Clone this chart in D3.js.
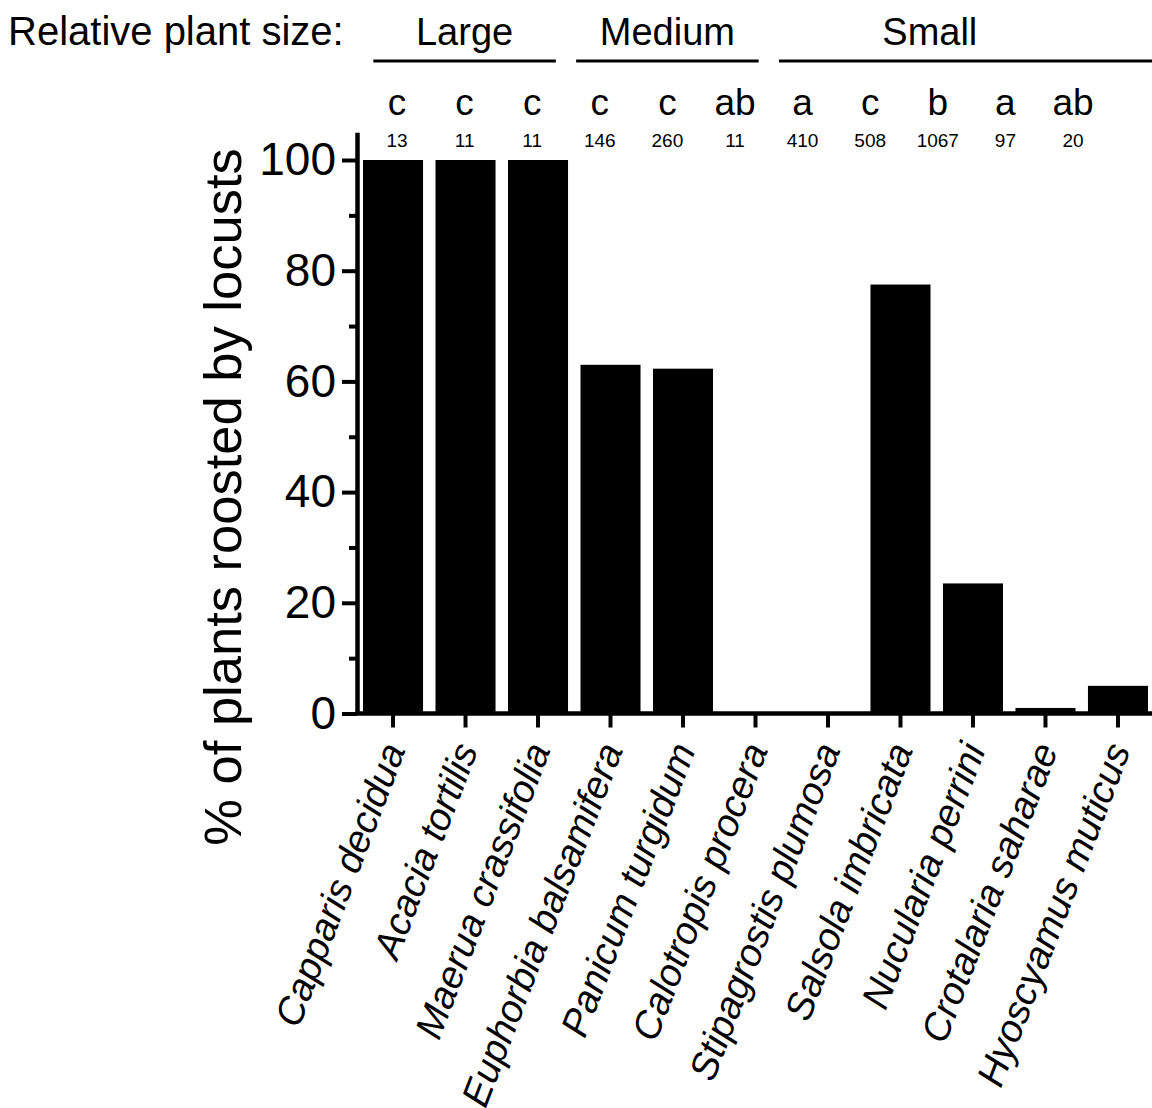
<!DOCTYPE html>
<html>
<head>
<meta charset="utf-8">
<script src="https://cdn.jsdelivr.net/npm/d3@7"></script>
<style>
  html, body { margin: 0; padding: 0; background: #fff; }
  svg { display: block; }
  text { font-family: "Liberation Sans", Arial, Helvetica, sans-serif; fill: #000; }
</style>
</head>
<body>
<svg id="chart" width="1152" height="1108"></svg>
<script>
// ---- Data ----
const species = [
  "Capparis decidua", "Acacia tortilis", "Maerua crassifolia",
  "Euphorbia balsamifera", "Panicum turgidum", "Calotropis procera",
  "Stipagrostis plumosa", "Salsola imbricata", "Nucularia perrini",
  "Crotalaria saharae", "Hyoscyamus muticus"
];
const percentRoosted = [100, 100, 100, 63, 62.3, 0, 0, 77.5, 23.5, 1, 5];
const significanceLetters = ["c", "c", "c", "c", "c", "ab", "a", "c", "b", "a", "ab"];
const sampleSizes = [13, 11, 11, 146, 260, 11, 410, 508, 1067, 97, 20];
const sizeGroupNames = ["Large", "Medium", "Small"];
const sizeGroupFirst = [0, 3, 6];
const sizeGroupLast = [2, 5, 10];
const yMajorTicks = [0, 20, 40, 60, 80, 100];
const yMinorTicks = [10, 30, 50, 70, 90];

// ---- Layout ----
const W = 1152, H = 1108;
const svg = d3.select("#chart");
const axisX = 357, baseY = 713.5;

const x = d3.scaleBand()
  .domain(species)
  .range([axisX, 1154])
  .paddingInner(0.172)
  .paddingOuter(0.083);

const y = d3.scaleLinear()
  .domain([0, 105])
  .range([baseY, baseY - 105 * 5.535]);

// annotation row positions (letters and n), slightly compressed relative to bars
const ann = d3.scalePoint().domain(species).range([397, 1073]);

// ---- Bars ----
svg.append("g").selectAll("rect")
  .data(species)
  .join("rect")
  .attr("x", d => x(d))
  .attr("width", x.bandwidth())
  .attr("y", (d, i) => y(percentRoosted[i]))
  .attr("height", (d, i) => y(0) - y(percentRoosted[i]))
  .attr("fill", "#000");

// ---- Y axis ----
const yAxis = svg.append("g")
  .attr("transform", `translate(${axisX},0)`)
  .call(d3.axisLeft(y).tickValues(yMajorTicks).tickSize(15).tickSizeOuter(0).tickPadding(6).tickFormat(d3.format("d")));
yAxis.select(".domain").attr("stroke-width", 4.5);
yAxis.selectAll(".tick line").attr("stroke-width", 4);
yAxis.selectAll(".tick text")
  .style("font-size", "46px")
  .attr("font-family", null);

const yMinor = svg.append("g")
  .attr("transform", `translate(${axisX},0)`)
  .call(d3.axisLeft(y).tickValues(yMinorTicks).tickSize(8).tickFormat(""));
yMinor.select(".domain").remove();
yMinor.selectAll(".tick line").attr("stroke-width", 4);

// ---- X axis ----
const xAxis = svg.append("g")
  .attr("transform", `translate(0,${baseY})`)
  .call(d3.axisBottom(x).tickSize(14).tickSizeOuter(0).tickFormat(""));
xAxis.select(".domain").attr("d", `M${axisX},0H${W}`).attr("stroke-width", 4.5);
xAxis.selectAll(".tick line").attr("stroke-width", 4);

svg.append("g").selectAll("text")
  .data(species)
  .join("text")
  .attr("transform", d => `translate(${x(d) + x.bandwidth() / 2 + 13},${baseY + 36}) rotate(-69)`)
  .attr("text-anchor", "end")
  .style("font-size", "38.5px")
  .style("font-style", "italic")
  .text(d => d);

// ---- Y axis label ----
svg.append("text")
  .attr("transform", `translate(241,497) rotate(-90)`)
  .attr("text-anchor", "middle")
  .style("font-size", "52.5px")
  .text("% of plants roosted by locusts");

// ---- Annotations ----
svg.append("g").selectAll("text")
  .data(species)
  .join("text")
  .attr("x", d => ann(d))
  .attr("y", 115)
  .attr("text-anchor", "middle")
  .style("font-size", "37px")
  .text((d, i) => significanceLetters[i]);

svg.append("g").selectAll("text")
  .data(species)
  .join("text")
  .attr("x", d => ann(d))
  .attr("y", 147)
  .attr("text-anchor", "middle")
  .style("font-size", "19px")
  .text((d, i) => sampleSizes[i]);

// ---- Size groups header ----
svg.append("text")
  .attr("x", 8)
  .attr("y", 45)
  .style("font-size", "40px")
  .text("Relative plant size:");

const step = ann.step();
sizeGroupNames.forEach((g, i) => {
  const x0 = ann(species[sizeGroupFirst[i]]) - step * 0.35;
  const x1 = i === sizeGroupNames.length - 1 ? W : ann(species[sizeGroupLast[i]]) + step * 0.35;
  svg.append("line")
    .attr("x1", x0).attr("x2", x1)
    .attr("y1", 61).attr("y2", 61)
    .attr("stroke", "#000").attr("stroke-width", 3);
  const mid = Math.round((sizeGroupFirst[i] + sizeGroupLast[i]) / 2);
  svg.append("text")
    .attr("x", ann(species[mid]) - (i === sizeGroupNames.length - 1 ? 8 : 0))
    .attr("y", 45)
    .attr("text-anchor", "middle")
    .style("font-size", "38px")
    .text(g);
});
</script>
</body>
</html>
